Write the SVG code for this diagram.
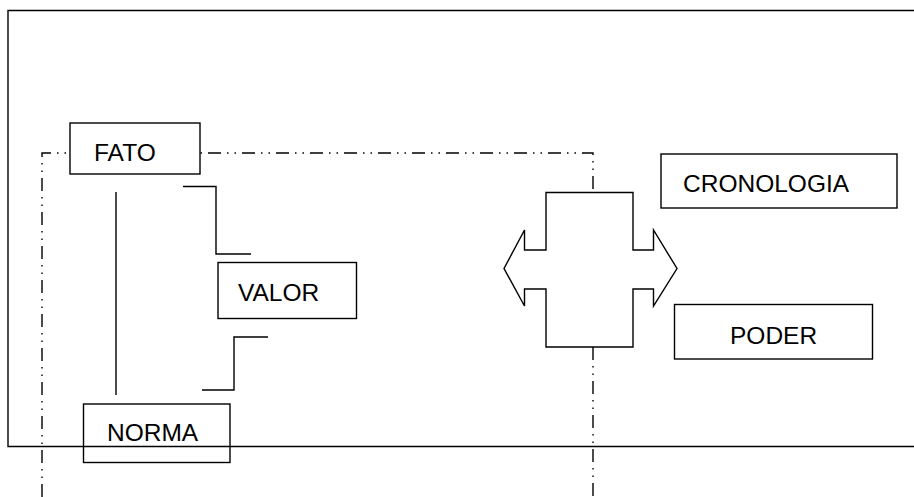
<svg xmlns="http://www.w3.org/2000/svg" width="914" height="497" viewBox="0 0 914 497">
<style>
.ln{fill:none;stroke:#000;stroke-width:1.4}
.dd{fill:none;stroke:#000;stroke-width:1.4;stroke-dasharray:13 6 1.5 6 1.5 6}
.box{fill:#fff;stroke:#000;stroke-width:1.4}
.obox{fill:none;stroke:#000;stroke-width:1.4}
.t{font-family:"Liberation Sans",Arial,sans-serif;font-size:24.5px;fill:#000}
</style>
<rect width="914" height="497" fill="#fff"/>
<g id="connectors">
<path class="ln" d="M920,10.5 H8 V446.5 H920"/>
<path class="dd" d="M42,497 V153 H593 V192"/>
<path class="dd" d="M593,347 V497"/>
<path class="ln" d="M116,192 V395"/>
<path class="ln" d="M183,186.5 H216 V254 H251"/>
<path class="ln" d="M268,337 H234 V390 H202"/>
</g>
<g id="fato">
<rect class="box" x="70" y="123" width="130" height="51"/>
<text class="t" x="94" y="161">FATO</text>
</g>
<g id="valor">
<rect class="box" x="218" y="262.5" width="138.5" height="56"/>
<text class="t" x="238" y="300.5">VALOR</text>
</g>
<g id="norma">
<rect class="obox" x="83.5" y="404" width="146.5" height="58.5"/>
<text class="t" x="107" y="440.5">NORMA</text>
</g>
<g id="cruz">
<path class="box" d="M546,192.5 H633 V250 H653.5 V230 L677,268.5 L653.5,306 V289 H633 V347 H546 V289 H524.5 V306 L504,268.5 L524.5,230 V250 H546 Z"/>
</g>
<g id="cronologia">
<rect class="box" x="661" y="154" width="236" height="54"/>
<text class="t" x="683" y="192">CRONOLOGIA</text>
</g>
<g id="poder">
<rect class="box" x="674.5" y="304.5" width="198" height="54.5"/>
<text class="t" x="730" y="344">PODER</text>
</g>
</svg>
